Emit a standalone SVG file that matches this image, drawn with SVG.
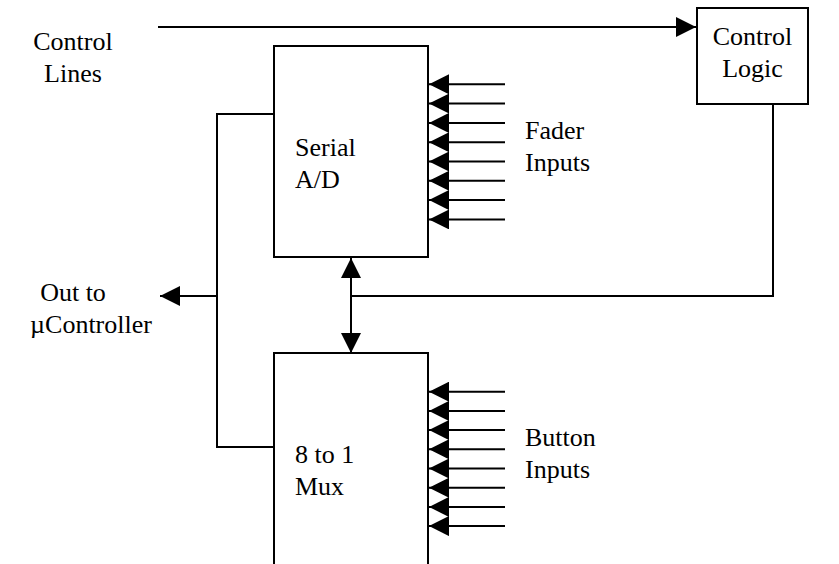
<svg xmlns="http://www.w3.org/2000/svg" width="839" height="564" viewBox="0 0 839 564">
<defs>
<style>
.box{fill:#fff;stroke:#000;stroke-width:2}
.ln{fill:none;stroke:#000;stroke-width:2}
.t{font-family:"Liberation Serif","Times New Roman",serif;font-size:26px;fill:#000}
.c{text-anchor:middle}
</style>
<marker id="ah" markerWidth="20" markerHeight="20" viewBox="0 0 20 20" refX="20" refY="10" orient="auto" markerUnits="userSpaceOnUse">
<path d="M0,0 L20,10 L0,20 Z" fill="#000"/>
</marker>
</defs>
<rect width="839" height="564" fill="#fff"/>
<g id="connectors">
<line class="ln" x1="158" y1="27" x2="696" y2="27" marker-end="url(#ah)"/>
<polyline class="ln" points="773,104 773,296 351,296"/>
<line class="ln" x1="351" y1="296" x2="351" y2="258" marker-end="url(#ah)"/>
<line class="ln" x1="351" y1="296" x2="351" y2="353" marker-end="url(#ah)"/>
<polyline class="ln" points="274,114 217,114 217,447 274,447"/>
<line class="ln" x1="217" y1="296" x2="160" y2="296" marker-end="url(#ah)"/>
<g id="fader-lines">
<line class="ln" x1="505" y1="84.3" x2="429" y2="84.3" marker-end="url(#ah)"/>
<line class="ln" x1="505" y1="103.6" x2="429" y2="103.6" marker-end="url(#ah)"/>
<line class="ln" x1="505" y1="122.9" x2="429" y2="122.9" marker-end="url(#ah)"/>
<line class="ln" x1="505" y1="142.2" x2="429" y2="142.2" marker-end="url(#ah)"/>
<line class="ln" x1="505" y1="161.5" x2="429" y2="161.5" marker-end="url(#ah)"/>
<line class="ln" x1="505" y1="180.8" x2="429" y2="180.8" marker-end="url(#ah)"/>
<line class="ln" x1="505" y1="200.1" x2="429" y2="200.1" marker-end="url(#ah)"/>
<line class="ln" x1="505" y1="219.4" x2="429" y2="219.4" marker-end="url(#ah)"/>
</g>
<g id="button-lines">
<line class="ln" x1="505" y1="391.7" x2="429" y2="391.7" marker-end="url(#ah)"/>
<line class="ln" x1="505" y1="410.9" x2="429" y2="410.9" marker-end="url(#ah)"/>
<line class="ln" x1="505" y1="430.1" x2="429" y2="430.1" marker-end="url(#ah)"/>
<line class="ln" x1="505" y1="449.3" x2="429" y2="449.3" marker-end="url(#ah)"/>
<line class="ln" x1="505" y1="468.5" x2="429" y2="468.5" marker-end="url(#ah)"/>
<line class="ln" x1="505" y1="487.7" x2="429" y2="487.7" marker-end="url(#ah)"/>
<line class="ln" x1="505" y1="506.9" x2="429" y2="506.9" marker-end="url(#ah)"/>
<line class="ln" x1="505" y1="526.1" x2="429" y2="526.1" marker-end="url(#ah)"/>
</g>
</g>
<g id="control-lines-label">
<text class="t c" x="73" y="50">Control</text>
<text class="t c" x="73" y="82">Lines</text>
</g>
<g id="control-logic">
<rect class="box" x="697" y="8" width="111" height="96"/>
<text class="t c" x="752.5" y="45">Control</text>
<text class="t c" x="752.5" y="77">Logic</text>
</g>
<g id="serial-ad">
<rect class="box" x="274" y="46" width="154" height="211"/>
<text class="t" x="295" y="156">Serial</text>
<text class="t" x="295" y="188">A/D</text>
</g>
<g id="mux">
<rect class="box" x="274" y="353" width="154" height="220"/>
<text class="t" x="295" y="463">8 to 1</text>
<text class="t" x="295" y="495">Mux</text>
</g>
<g id="fader-label">
<text class="t" x="525" y="139">Fader</text>
<text class="t" x="525" y="171">Inputs</text>
</g>
<g id="button-label">
<text class="t" x="525" y="446">Button</text>
<text class="t" x="525" y="478">Inputs</text>
</g>
<g id="out-label">
<text class="t c" x="73" y="301">Out to</text>
<text class="t c" x="91" y="333">µController</text>
</g>
</svg>
